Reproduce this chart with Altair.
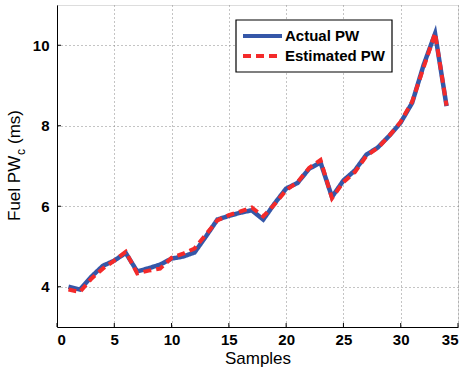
import altair as alt
import pandas as pd

samples = list(range(1, 35))
actual = [4.00, 3.93, 4.25, 4.52, 4.65, 4.84, 4.38, 4.46, 4.55, 4.70, 4.75, 4.85,
          5.25, 5.67, 5.76, 5.84, 5.90, 5.67, 6.07, 6.44, 6.58, 6.93, 7.09, 6.23,
          6.64, 6.89, 7.28, 7.46, 7.75, 8.08, 8.57, 9.51, 10.29, 8.49]
estimated = [3.93, 3.87, 4.20, 4.45, 4.65, 4.87, 4.33, 4.40, 4.45, 4.72, 4.82, 4.95,
             5.30, 5.65, 5.78, 5.87, 5.97, 5.75, 6.05, 6.40, 6.60, 6.95, 7.15, 6.20,
             6.60, 6.85, 7.25, 7.45, 7.75, 8.10, 8.60, 9.45, 10.30, 8.50]
series_names = ["Actual PW", "Estimated PW"]
series_colors = ["#3557A8", "#F42A2A"]
series_dashes = [[1, 0], [8, 5]]
x_ticks = [0, 5, 10, 15, 20, 25, 30, 35]
y_ticks = [4, 6, 8, 10]

FONT = "Liberation Sans"
W, H = 401, 322

rows = []
for s, a, e in zip(samples, actual, estimated):
    rows.append({"Samples": s, "PW": a, "Series": series_names[0]})
    rows.append({"Samples": s, "PW": e, "Series": series_names[1]})
df = pd.DataFrame(rows)

xscale = alt.Scale(domain=[0, 35], nice=False, zero=False)
yscale = alt.Scale(domain=[3, 11], nice=False, zero=False)

xaxis = alt.Axis(values=x_ticks, title="Samples", labelFont=FONT, labelFontWeight="bold",
                 labelFontSize=15, labelColor="black", labelPadding=5, ticks=False,
                 titleFont=FONT, titleFontWeight="normal", titleFontSize=17, titleColor="black",
                 titlePadding=3, domainColor="black", grid=True, gridColor="#888888",
                 gridDash=[1, 3], gridWidth=1)
yaxis = alt.Axis(values=y_ticks, title=None, labelFont=FONT, labelFontWeight="bold",
                 labelFontSize=15, labelColor="black", labelPadding=8, ticks=False,
                 domainColor="black", grid=True, gridColor="#888888",
                 gridDash=[1, 3], gridWidth=1)

color = alt.Color("Series:N", scale=alt.Scale(domain=series_names, range=series_colors), legend=None)
dash = alt.StrokeDash("Series:N", scale=alt.Scale(domain=series_names, range=series_dashes), legend=None)

base = alt.Chart(df)
line_a = base.transform_filter(alt.datum.Series == series_names[0]).mark_line(strokeWidth=4.5).encode(
    x=alt.X("Samples:Q", scale=xscale, axis=xaxis),
    y=alt.Y("PW:Q", scale=yscale, axis=yaxis),
    color=color, strokeDash=dash)
line_e = base.transform_filter(alt.datum.Series == series_names[1]).mark_line(strokeWidth=4).encode(
    x=alt.X("Samples:Q", scale=xscale, axis=xaxis),
    y=alt.Y("PW:Q", scale=yscale, axis=yaxis),
    color=color, strokeDash=dash)

xt = alt.Chart(pd.DataFrame({"Samples": x_ticks})).mark_rule(color="black", strokeWidth=1).encode(
    x=alt.X("Samples:Q", scale=xscale, axis=xaxis),
    y=alt.value(H), y2=alt.value(H - 4))
yt = alt.Chart(pd.DataFrame({"PW": y_ticks})).mark_rule(color="black", strokeWidth=1).encode(
    y=alt.Y("PW:Q", scale=yscale, axis=yaxis),
    x=alt.value(0), x2=alt.value(4))

one = pd.DataFrame({"k": [0]})
t1 = alt.Chart(one).mark_text(angle=270, align="left", baseline="middle", font=FONT,
                              fontSize=17, color="black").encode(
    x=alt.value(-42), y=alt.value(216), text=alt.value("Fuel PW"))
t2 = alt.Chart(one).mark_text(angle=270, align="left", baseline="middle", font=FONT,
                              fontSize=12, color="black").encode(
    x=alt.value(-36), y=alt.value(150), text=alt.value("c"))
t3 = alt.Chart(one).mark_text(angle=270, align="left", baseline="middle", font=FONT,
                              fontSize=17, color="black").encode(
    x=alt.value(-42), y=alt.value(139), text=alt.value("(ms)"))

# legend box drawn by hand
LX0, LX1, LY0, LY1 = 179, 335, 15, 67
leg_box = alt.Chart(one).mark_rect(fill="white", stroke="black", strokeWidth=1.2).encode(
    x=alt.value(LX0), x2=alt.value(LX1), y=alt.value(LY0), y2=alt.value(LY1))
leg_items = []
for i, (name, col, dsh) in enumerate(zip(series_names, series_colors, series_dashes)):
    yy = 31 + 20 * i
    leg_items.append(alt.Chart(one).mark_rule(color=col, strokeWidth=4, strokeDash=dsh).encode(
        x=alt.value(186), x2=alt.value(225), y=alt.value(yy)))
    leg_items.append(alt.Chart(one).mark_text(align="left", baseline="middle", font=FONT,
                                               fontSize=15, fontWeight="bold", color="black").encode(
        x=alt.value(228), y=alt.value(yy), text=alt.value(name)))

chart = alt.layer(line_a, line_e, xt, yt, t1, t2, t3, leg_box, *leg_items).properties(
    width=W, height=H,
    autosize=alt.AutoSizeParams(type="none"),
    padding={"left": 57, "top": 5, "right": 9, "bottom": 49},
).configure_view(stroke=None).configure(background="white")

chart.save("out.html", embed_options={"renderer": "svg", "actions": False})
